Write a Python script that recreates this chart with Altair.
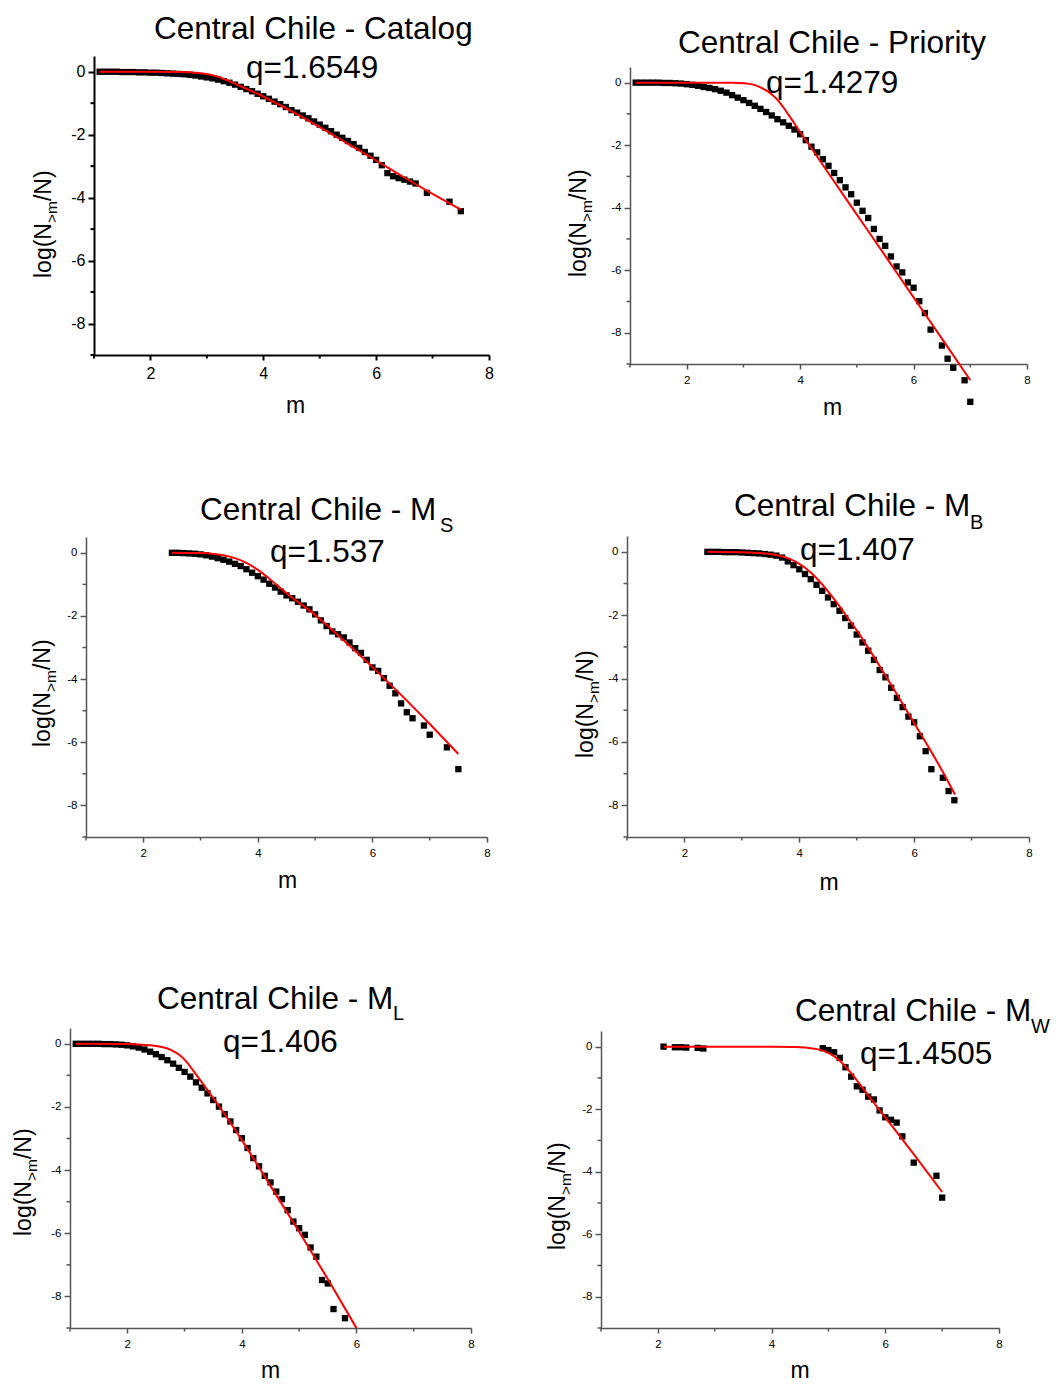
import altair as alt
import pandas as pd

FONT = "Liberation Sans"

# ---------------- texts / ticks ----------------
TITLES = ["Central Chile - Catalog", "Central Chile - Priority", "Central Chile - M",
          "Central Chile - M", "Central Chile - M", "Central Chile - M"]
SUBSCRIPTS = ["", "", "S", "B", "L", "W"]
Q_LABELS = ["q=1.6549", "q=1.4279", "q=1.537", "q=1.407", "q=1.406", "q=1.4505"]
X_TICKS = [2, 4, 6, 8]
X_MINOR = [1, 3, 5, 7]
Y_TICKS = [0, -2, -4, -6, -8]
Y_MINOR = [-1, -3, -5, -7, -9]
X_TITLE = "m"
Y_TITLE_PARTS = ["log(N", ">m", "/N)"]

# ---------------- data ----------------
# Catalog
CAT_M = [1.1, 1.2, 1.3, 1.4, 1.5, 1.6, 1.7, 1.8, 1.9, 2.0,
         2.1, 2.2, 2.3, 2.4, 2.5, 2.6, 2.7, 2.8, 2.9, 3.0,
         3.1, 3.2, 3.3, 3.4, 3.5, 3.6, 3.7, 3.8, 3.9, 4.0,
         4.1, 4.2, 4.3, 4.4, 4.5, 4.6, 4.7, 4.8, 4.9, 5.0,
         5.1, 5.2, 5.3, 5.4, 5.5, 5.6, 5.7, 5.8, 5.9, 6.0,
         6.1, 6.2, 6.3, 6.4, 6.5, 6.6, 6.7, 6.9, 7.3, 7.5]
CAT_Y = [0.00, 0.00, 0.00, 0.00, -0.01, -0.01, -0.01, -0.02, -0.02, -0.03,
         -0.03, -0.04, -0.05, -0.06, -0.07, -0.08, -0.10, -0.12, -0.15, -0.18,
         -0.21, -0.25, -0.30, -0.35, -0.41, -0.48, -0.55, -0.62, -0.70, -0.78,
         -0.86, -0.95, -1.03, -1.12, -1.22, -1.30, -1.39, -1.48, -1.58, -1.68,
         -1.78, -1.89, -2.00, -2.10, -2.20, -2.30, -2.42, -2.55, -2.67, -2.80,
         -2.97, -3.22, -3.32, -3.38, -3.43, -3.49, -3.55, -3.85, -4.13, -4.43]
CAT_FIT_M = [1.1, 2.0, 2.5, 2.7, 2.8, 2.9, 3.0, 3.1, 3.2, 3.3, 3.4, 3.5, 3.6, 3.7, 3.8,
             3.9, 4.0, 4.25, 4.5, 5.0, 5.5, 6.0, 6.5, 7.0, 7.5]
CAT_FIT_Y = [0.0, 0.0, -0.01, -0.02, -0.03, -0.045, -0.07, -0.11, -0.16, -0.23, -0.30,
             -0.38, -0.46, -0.54, -0.62, -0.70, -0.79, -1.02, -1.25, -1.76, -2.29,
             -2.82, -3.36, -3.88, -4.38]

# Priority
PRI_M = [1.1, 1.2, 1.3, 1.4, 1.5, 1.6, 1.7, 1.8, 1.9, 2.0,
         2.1, 2.2, 2.3, 2.4, 2.5, 2.6, 2.7, 2.8, 2.9, 3.0,
         3.1, 3.2, 3.3, 3.4, 3.5, 3.6, 3.7, 3.8, 3.9, 4.0,
         4.1, 4.2, 4.3, 4.4, 4.5, 4.6, 4.7, 4.8, 4.9, 5.0,
         5.1, 5.2, 5.3, 5.4, 5.5, 5.6, 5.7, 5.8, 5.9, 6.0,
         6.1, 6.2, 6.3, 6.5, 6.6, 6.7, 6.9, 7.0]
PRI_Y = [0.00, 0.00, 0.00, 0.00, 0.00, -0.01, -0.01, -0.02, -0.03, -0.05,
         -0.07, -0.10, -0.14, -0.17, -0.21, -0.26, -0.32, -0.40, -0.48, -0.56,
         -0.65, -0.74, -0.84, -0.94, -1.05, -1.17, -1.27, -1.38, -1.50, -1.65,
         -1.84, -2.05, -2.23, -2.45, -2.66, -2.89, -3.12, -3.35, -3.57, -3.84,
         -4.10, -4.33, -4.68, -5.00, -5.22, -5.56, -5.88, -6.07, -6.39, -6.56,
         -6.99, -7.37, -7.90, -8.41, -8.83, -9.12, -9.52, -10.21]
PRI_FIT_M = [1.1, 2.5, 2.8, 3.0, 3.1, 3.2, 3.3, 3.4, 3.5, 3.6, 3.7, 3.8, 4.0, 4.2,
             4.5, 5.0, 5.5, 6.0, 6.5, 7.0]
PRI_FIT_Y = [0.0, 0.0, -0.005, -0.02, -0.04, -0.08, -0.15, -0.25, -0.38, -0.55, -0.78,
             -1.04, -1.58, -2.10, -2.90, -4.22, -5.54, -6.87, -8.19, -9.52]

# M_S
MS_M = [2.5, 2.6, 2.7, 2.8, 2.9, 3.0, 3.1, 3.2, 3.3, 3.4,
        3.5, 3.6, 3.7, 3.8, 3.9, 4.0, 4.1, 4.2, 4.3, 4.4,
        4.5, 4.6, 4.7, 4.8, 4.9, 5.0, 5.1, 5.2, 5.3, 5.4,
        5.5, 5.6, 5.7, 5.8, 5.9, 6.0, 6.1, 6.2, 6.3, 6.4,
        6.5, 6.6, 6.7, 6.9, 7.0, 7.3, 7.5]
MS_Y = [0.00, 0.00, -0.01, -0.02, -0.03, -0.05, -0.08, -0.12, -0.17, -0.22,
        -0.28, -0.35, -0.42, -0.52, -0.63, -0.74, -0.85, -0.98, -1.10, -1.23,
        -1.35, -1.44, -1.55, -1.67, -1.79, -1.95, -2.14, -2.32, -2.49, -2.58,
        -2.68, -2.84, -3.02, -3.17, -3.39, -3.63, -3.74, -3.97, -4.21, -4.45,
        -4.77, -5.05, -5.24, -5.47, -5.76, -6.16, -6.85]
MS_FIT_M = [2.5, 3.0, 3.2, 3.4, 3.6, 3.8, 4.0, 4.2, 4.5, 5.0, 5.5, 6.0, 6.5, 7.0, 7.5]
MS_FIT_Y = [0.0, -0.01, -0.03, -0.08, -0.17, -0.32, -0.54, -0.82, -1.28, -1.97, -2.78,
            -3.62, -4.50, -5.42, -6.37]

# M_B
MB_M = [2.4, 2.5, 2.6, 2.7, 2.8, 2.9, 3.0, 3.1, 3.2, 3.3,
        3.4, 3.5, 3.6, 3.7, 3.8, 3.9, 4.0, 4.1, 4.2, 4.3,
        4.4, 4.5, 4.6, 4.7, 4.8, 4.9, 5.0, 5.1, 5.2, 5.3,
        5.4, 5.5, 5.6, 5.7, 5.8, 5.9, 6.0, 6.1, 6.2, 6.3,
        6.5, 6.6, 6.7]
MB_Y = [0.00, 0.00, 0.00, -0.01, -0.01, -0.01, -0.02, -0.03, -0.04, -0.05,
        -0.07, -0.09, -0.12, -0.18, -0.30, -0.42, -0.55, -0.70, -0.86, -1.04,
        -1.23, -1.44, -1.65, -1.86, -2.09, -2.33, -2.61, -2.86, -3.12, -3.41,
        -3.73, -3.96, -4.29, -4.61, -4.90, -5.20, -5.38, -5.82, -6.29, -6.86,
        -7.13, -7.55, -7.84]
MB_FIT_M = [2.4, 3.0, 3.4, 3.6, 3.8, 4.0, 4.2, 4.4, 4.6, 4.8, 5.0, 5.5, 6.0, 6.5, 6.71]
MB_FIT_Y = [0.0, -0.01, -0.05, -0.10, -0.20, -0.38, -0.65, -1.03, -1.48, -1.97, -2.48,
            -3.90, -5.40, -6.95, -7.66]

# M_L
ML_M = [1.1, 1.2, 1.3, 1.4, 1.5, 1.6, 1.7, 1.8, 1.9, 2.0,
        2.1, 2.2, 2.3, 2.4, 2.5, 2.6, 2.7, 2.8, 2.9, 3.0,
        3.1, 3.2, 3.3, 3.4, 3.5, 3.6, 3.7, 3.8, 3.9, 4.0,
        4.1, 4.2, 4.3, 4.4, 4.5, 4.6, 4.7, 4.8, 4.9, 5.0,
        5.1, 5.2, 5.3, 5.4, 5.5, 5.6, 5.8]
ML_Y = [0.00, 0.00, 0.00, 0.00, 0.00, -0.01, -0.01, -0.02, -0.03, -0.05,
        -0.08, -0.12, -0.18, -0.25, -0.33, -0.42, -0.52, -0.63, -0.76, -0.89,
        -1.04, -1.22, -1.39, -1.57, -1.78, -1.99, -2.23, -2.46, -2.73, -2.99,
        -3.30, -3.62, -3.88, -4.18, -4.39, -4.68, -4.92, -5.27, -5.63, -5.84,
        -6.05, -6.45, -6.74, -7.48, -7.59, -8.40, -8.69]
ML_FIT_M = [1.1, 2.0, 2.2, 2.4, 2.6, 2.7, 2.8, 2.9, 3.0, 3.2, 3.4, 3.6, 4.0, 4.5, 5.0, 5.5, 6.0]
ML_FIT_Y = [0.0, -0.01, -0.02, -0.05, -0.10, -0.15, -0.23, -0.34, -0.50, -0.97, -1.47,
            -1.97, -3.05, -4.50, -5.95, -7.45, -9.00]

# M_W
MW_M = [2.1, 2.3, 2.4, 2.5, 2.7, 2.8, 4.9, 5.0, 5.1, 5.2, 5.3, 5.4, 5.5, 5.6, 5.7, 5.8,
        5.9, 6.0, 6.1, 6.2, 6.3, 6.5, 6.9, 7.0]
MW_Y = [0.00, -0.02, -0.02, -0.03, -0.04, -0.06, -0.05, -0.11, -0.18, -0.36, -0.66, -0.96,
        -1.27, -1.38, -1.60, -1.69, -2.04, -2.26, -2.34, -2.43, -2.87, -3.71, -4.13, -4.83]
MW_FIT_M = [2.1, 4.0, 4.4, 4.6, 4.8, 5.0, 5.2, 5.4, 5.6, 5.8, 6.0, 6.5, 7.0]
MW_FIT_Y = [0.0, 0.0, -0.01, -0.03, -0.08, -0.20, -0.45, -0.85, -1.32, -1.80, -2.26, -3.44, -4.65]

POINTS = [(CAT_M, CAT_Y), (PRI_M, PRI_Y), (MS_M, MS_Y), (MB_M, MB_Y), (ML_M, ML_Y), (MW_M, MW_Y)]
FITS = [(CAT_FIT_M, CAT_FIT_Y), (PRI_FIT_M, PRI_FIT_Y), (MS_FIT_M, MS_FIT_Y),
        (MB_FIT_M, MB_FIT_Y), (ML_FIT_M, ML_FIT_Y), (MW_FIT_M, MW_FIT_Y)]

# ---------------- layout (pixels) ----------------
CELL_X = [(1, 522), (522, 1043)]
CELL_Y = [(0, 462), (462, 942), (942, 1377)]
ORIGIN = [(86, 48), (622, 59), (78, 529), (619, 528), (62, 1020), (593, 1023)]
SIZE = [(395, 299), (397, 297), (401, 300), (402, 301), (401, 300), (398, 297)]
TITLE_POS = [(60, -17), (48, -14), (114, -17), (107, -20), (87, -19), (194, -10)]
SUB_POS = [None, None, (354, -5), (343, -7), (323, -8), (430, 2)]
Q_POS = [(152, 22), (136, 26), (184, 25), (173, 24), (153, 24), (259, 33)]
YTITLE_POS = [(-43, 222), (-44, 210), (-36, 210), (-34, 222), (-39, 208), (-36, 219)]
XTITLE_POS = [(4, 58), (4, 51), (1, 51), (1, 53), (0, 50), (0, 50)]

BIG = dict(color="black", dw=2, tw=2, lsize=16)
SMALL = dict(color="#555555", dw=1.5, tw=1.5, lsize=11.5)
STYLES = [BIG, SMALL, SMALL, SMALL, SMALL, SMALL]

TITLE_SIZE = 31.5
SUB_SIZE = 20
AX_TITLE_SIZE = 23
AX_SUB_SIZE = 15.5

ARIAL_W = {"l": 0.222, "o": 0.556, "g": 0.556, "(": 0.333, "N": 0.722, ">": 0.584,
           "m": 0.833, "/": 0.278, ")": 0.333}


def text_width(s, size):
    return sum(ARIAL_W[ch] for ch in s) * size


ONE = pd.DataFrame({"k": [0]})


def txt(text, x, y, size, align="left", angle=None):
    kw = dict(text=text, fontSize=size, font=FONT, align=align, baseline="alphabetic",
              color="black")
    if angle is not None:
        kw["angle"] = angle
    return alt.Chart(ONE).mark_text(**kw).encode(x=alt.value(x), y=alt.value(y))


def spacer(w, h):
    return alt.Chart(ONE).mark_rect(opacity=0).encode(
        x=alt.value(0), x2=alt.value(w), y=alt.value(0), y2=alt.value(h)
    ).properties(width=w, height=h)


def panel(i):
    ox, oy = ORIGIN[i]
    W, H = SIZE[i]
    r, c = divmod(i, 2)
    st = STYLES[i]
    xs = alt.Scale(domain=[1, 8], nice=False, zero=False)
    ys = alt.Scale(domain=[-9, 0.5], nice=False, zero=False)
    common = dict(title=None, grid=False, domainColor=st["color"], domainWidth=st["dw"],
                  tickColor=st["color"], tickWidth=st["tw"], labelFont=FONT,
                  labelFontSize=st["lsize"], labelColor="black", labelFlush=False,
                  labelOverlap=False, labelExpr="toString(datum.value)")
    xaxis = alt.Axis(values=X_TICKS, tickSize=5, labelPadding=5, **common)
    yaxis = alt.Axis(values=Y_TICKS, tickSize=6, labelPadding=3, **common)
    X = alt.X("m:Q", scale=xs, axis=xaxis)
    Y = alt.Y("y:Q", scale=ys, axis=yaxis)

    layers = []
    # invisible frame that fixes the cell size
    layers.append(alt.Chart(ONE).mark_rect(opacity=0).encode(
        x=alt.value(CELL_X[c][0] - ox), x2=alt.value(CELL_X[c][1] - ox),
        y=alt.value(CELL_Y[r][0] - oy), y2=alt.value(CELL_Y[r][1] - oy)))
    # minor ticks
    layers.append(alt.Chart(pd.DataFrame({"m": X_MINOR})).mark_rule(
        color=st["color"], strokeWidth=st["tw"]).encode(
        x=X, y=alt.value(H), y2=alt.value(H + 3.5)))
    layers.append(alt.Chart(pd.DataFrame({"y": Y_MINOR})).mark_rule(
        color=st["color"], strokeWidth=st["tw"]).encode(
        y=Y, x=alt.value(0), x2=alt.value(-3.5)))
    pm, py = POINTS[i]
    layers.append(alt.Chart(pd.DataFrame({"m": pm, "y": py})).mark_square(
        size=40, color="black", opacity=1).encode(x=X, y=Y))
    fm, fy = FITS[i]
    layers.append(alt.Chart(pd.DataFrame({"m": fm, "y": fy})).mark_line(
        color="#ff0000", strokeWidth=2, interpolate="monotone").encode(x=X, y=Y))
    # titles
    tx, ty = TITLE_POS[i]
    layers.append(txt(TITLES[i], tx, ty, TITLE_SIZE))
    if SUBSCRIPTS[i]:
        sx, sy = SUB_POS[i]
        layers.append(txt(SUBSCRIPTS[i], sx, sy, SUB_SIZE))
    qx, qy = Q_POS[i]
    layers.append(txt(Q_LABELS[i], qx, qy, TITLE_SIZE))
    # y axis title with subscript
    bx, by = YTITLE_POS[i]
    w1 = text_width(Y_TITLE_PARTS[0], AX_TITLE_SIZE)
    w2 = text_width(Y_TITLE_PARTS[1], AX_SUB_SIZE)
    layers.append(txt(Y_TITLE_PARTS[0], bx, by, AX_TITLE_SIZE, angle=270))
    layers.append(txt(Y_TITLE_PARTS[1], bx + 6, by - w1, AX_SUB_SIZE, angle=270))
    layers.append(txt(Y_TITLE_PARTS[2], bx, by - w1 - w2, AX_TITLE_SIZE, angle=270))
    # x axis title
    mx, my = XTITLE_POS[i]
    layers.append(txt(X_TITLE, W / 2 + mx, H + my, AX_TITLE_SIZE, align="center"))

    return alt.layer(*layers).properties(width=W, height=H)


def wrapped(i, row_top):
    p = panel(i)
    dv = ORIGIN[i][1] - row_top
    if dv > 0:
        return alt.vconcat(spacer(1, dv), p, spacing=0, bounds="flush")
    return p


rows = []
for r in range(3):
    top = min(ORIGIN[2 * r][1], ORIGIN[2 * r + 1][1])
    rows.append(alt.hconcat(spacer(1, 1), wrapped(2 * r, top), wrapped(2 * r + 1, top),
                            spacing=0))

chart = alt.vconcat(*rows, spacing=0).properties(padding=0).configure_view(stroke=None)

chart.save("out.html", embed_options={"renderer": "svg", "actions": False})
